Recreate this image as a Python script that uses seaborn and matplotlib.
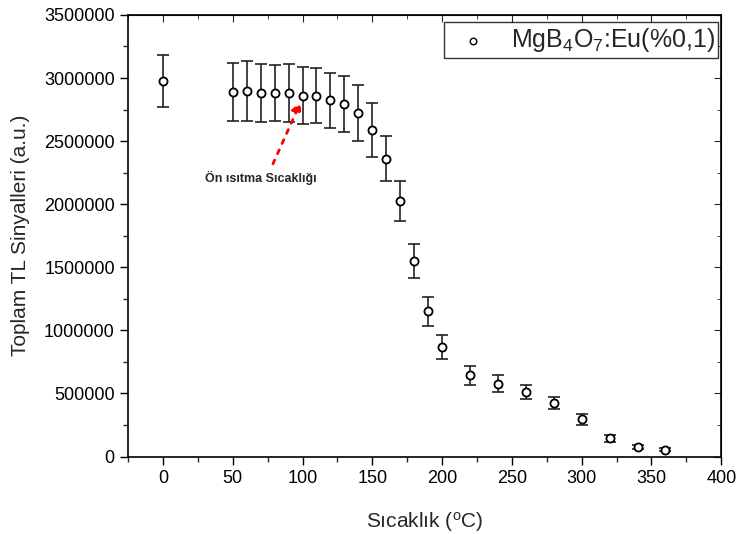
import matplotlib
matplotlib.use("Agg")
import matplotlib.pyplot as plt
import seaborn as sns
import pandas as pd
from matplotlib.ticker import MultipleLocator, FuncFormatter

temps = [0, 50, 60, 70, 80, 90, 100, 110, 120, 130, 140, 150, 160, 170, 180, 190,
         200, 220, 240, 260, 280, 300, 320, 340, 360]
signals = [2974000, 2889000, 2897000, 2881000, 2884000, 2881000, 2860000, 2860000,
           2823000, 2796000, 2720000, 2590000, 2362000, 2024000, 1550000, 1153000,
           870000, 645000, 579000, 513000, 423000, 294000, 145000, 74000, 53000]
errors = [205000, 232000, 238000, 230000, 222000, 228000, 225000, 217000,
          220000, 222000, 222000, 212000, 180000, 157000, 135000, 115000,
          93000, 75000, 68000, 57000, 49000, 45000, 28000, 15000, 12000]
series_label = "MgB$_4$O$_7$:Eu(%0,1)"
annot_text = "Ön ısıtma Sıcaklığı"

df = pd.DataFrame({"T": temps, "S": signals, "E": errors})

sns.set_style("ticks")
plt.rcParams["font.family"] = ["Liberation Sans", "DejaVu Sans"]
plt.rcParams["mathtext.fontset"] = "custom"
plt.rcParams["mathtext.rm"] = "Liberation Sans"
plt.rcParams["mathtext.it"] = "Liberation Sans"

fig = plt.figure(figsize=(7.36, 5.34), dpi=100)
ax = fig.add_axes([0.174, 0.145, 0.806, 0.827])

ax.errorbar(df["T"], df["S"], yerr=df["E"], fmt="none", ecolor="#222222",
            elinewidth=1.2, capsize=4, capthick=1.2, zorder=2)
sns.scatterplot(data=df, x="T", y="S", ax=ax, marker="o", s=34,
                facecolor="white", edgecolor="black", linewidth=1.3,
                label=series_label, zorder=3)

ax.set_xlim(-25, 400)
ax.set_ylim(0, 3500000)
ax.xaxis.set_major_locator(MultipleLocator(50))
ax.xaxis.set_minor_locator(MultipleLocator(25))
ax.yaxis.set_major_locator(MultipleLocator(500000))
ax.yaxis.set_minor_locator(MultipleLocator(250000))
ax.yaxis.set_major_formatter(FuncFormatter(lambda v, p: f"{int(round(v))}"))
ax.tick_params(which="major", direction="out", length=6, width=1, labelsize=13, colors="black")
ax.tick_params(which="minor", direction="out", length=3.5, width=1)
for s in ax.spines.values():
    s.set_linewidth(1.2)
    s.set_color("black")

sec_x = ax.secondary_xaxis("top")
sec_x.xaxis.set_major_locator(MultipleLocator(50))
sec_x.xaxis.set_minor_locator(MultipleLocator(25))
sec_x.tick_params(which="major", direction="in", length=5, labeltop=False)
sec_x.tick_params(which="minor", direction="in", length=3)
sec_x.set_xticklabels([])
sec_y = ax.secondary_yaxis("right")
sec_y.yaxis.set_major_locator(MultipleLocator(500000))
sec_y.yaxis.set_minor_locator(MultipleLocator(250000))
sec_y.tick_params(which="major", direction="in", length=5, labelright=False)
sec_y.tick_params(which="minor", direction="in", length=3)
sec_y.set_yticklabels([])

ax.set_xlabel("Sıcaklık ($^{\\rm o}$C)", fontsize=15, labelpad=17)
ax.set_ylabel("Toplam TL Sinyalleri (a.u.)", fontsize=15, labelpad=10)

ax.annotate("", xy=(99.5, 2830000), xytext=(78, 2300000),
            arrowprops=dict(arrowstyle="-|>", color="red", linestyle=(0, (1.5, 2.5)),
                            linewidth=2, mutation_scale=14))
ax.text(70, 2206000, annot_text, fontsize=9, fontweight="bold", ha="center", va="center")

leg = ax.legend(loc="upper right", bbox_to_anchor=(0.995, 0.983), fontsize=18,
                frameon=True, fancybox=False, edgecolor="black", borderpad=0.15,
                handletextpad=0.5, borderaxespad=0.0, handlelength=2.0)
leg.get_frame().set_linewidth(1.0)
for h in leg.legend_handles:
    h.set_sizes([22])
    h.set_linewidth(1.0)

fig.savefig("out.png", dpi=100)
